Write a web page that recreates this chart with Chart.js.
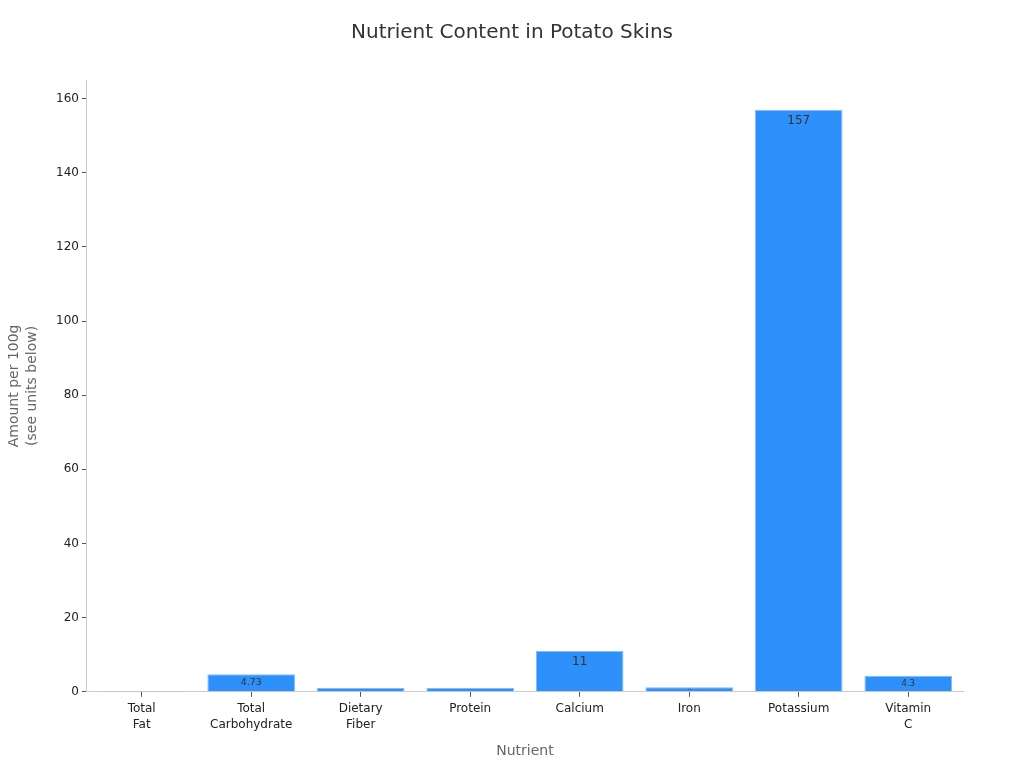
<!DOCTYPE html>
<html>
<head>
<meta charset="utf-8">
<script src="https://cdn.jsdelivr.net/npm/chart.js@4"></script>
<style>
  html, body { margin: 0; padding: 0; background: #fff; overflow: hidden; }
  canvas { display: block; }
</style>
</head>
<body>
<canvas id="myChart" width="1024" height="768"></canvas>
<script>
const chartTitle = 'Nutrient Content in Potato Skins';
const nutrients = [['Total', 'Fat'], ['Total', 'Carbohydrate'], ['Dietary', 'Fiber'], 'Protein', 'Calcium', 'Iron', 'Potassium', ['Vitamin', 'C']];
const amounts = [0.06, 4.73, 1, 1, 11, 1.2, 157, 4.3];
const labelsText = ['0.06', '4.73', '1', '1', '11', '1.2', '157', '4.3'];
const yTicks = [0, 20, 40, 60, 80, 100, 120, 140, 160];

Chart.defaults.font.family = '"DejaVu Sans", sans-serif';

// value labels drawn inside each bar, shrinking for short bars
const barLabels = {
    id: 'barLabels',
    afterDatasetsDraw(chart) {
        const ctx = chart.ctx;
        const meta = chart.getDatasetMeta(0);
        ctx.save();
        ctx.fillStyle = '#333';
        ctx.textAlign = 'center';
        ctx.textBaseline = 'middle';
        meta.data.forEach(function (bar, i) {
            var h = bar.base - bar.y;
            var size = Math.min(12, h * 0.55);
            if (size < 2) return;
            ctx.font = size + 'px "DejaVu Sans", sans-serif';
            ctx.fillText(labelsText[i], bar.x, bar.y + Math.min(11, h / 2));
        });
        ctx.restore();
    }
};

// title centred on the whole canvas, not on the padded box
const pageTitle = {
    id: 'pageTitle',
    afterDraw(chart) {
        const ctx = chart.ctx;
        ctx.save();
        ctx.fillStyle = '#333';
        ctx.font = '20px "DejaVu Sans", sans-serif';
        ctx.textAlign = 'center';
        ctx.textBaseline = 'middle';
        ctx.fillText(chartTitle, chart.width / 2, 33);
        ctx.restore();
    }
};

var ctx = document.getElementById('myChart').getContext('2d');
var myChart = new Chart(ctx, {
    type: 'bar',
    data: {
        labels: nutrients,
        datasets: [{
            data: amounts,
            backgroundColor: '#2e90fa',
            borderColor: '#7fbcfc',
            borderWidth: 1,
            barPercentage: 0.8,
            categoryPercentage: 1.0
        }]
    },
    options: {
        responsive: false,
        animation: false,
        devicePixelRatio: 1,
        layout: { padding: { left: 2, right: 61, top: 80, bottom: 0 } },
        plugins: {
            legend: { display: false },
            tooltip: { enabled: false },
            title: { display: false }
        },
        scales: {
            x: {
                grid: { display: true, offset: false, drawOnChartArea: false, drawTicks: true, tickLength: 5, color: '#555' },
                border: { color: '#ccc' },
                ticks: { color: '#222', font: { size: 12, lineHeight: 1.35 }, padding: 4 },
                title: { display: true, text: 'Nutrient', color: '#666', font: { size: 14 }, padding: { top: 6, bottom: 8 } }
            },
            y: {
                min: 0,
                max: 165,
                grid: { display: true, drawOnChartArea: false, drawTicks: true, tickLength: 5, color: '#555' },
                border: { color: '#ccc' },
                ticks: { color: '#222', font: { size: 12 }, padding: 3 },
                afterBuildTicks: function (axis) {
                    axis.ticks = yTicks.map(function (v) { return { value: v }; });
                },
                title: { display: true, text: ['Amount per 100g', '(see units below)'], color: '#666', font: { size: 14, lineHeight: 1.25 }, padding: { bottom: 12 } }
            }
        }
    },
    plugins: [barLabels, pageTitle]
});
</script>
</body>
</html>
